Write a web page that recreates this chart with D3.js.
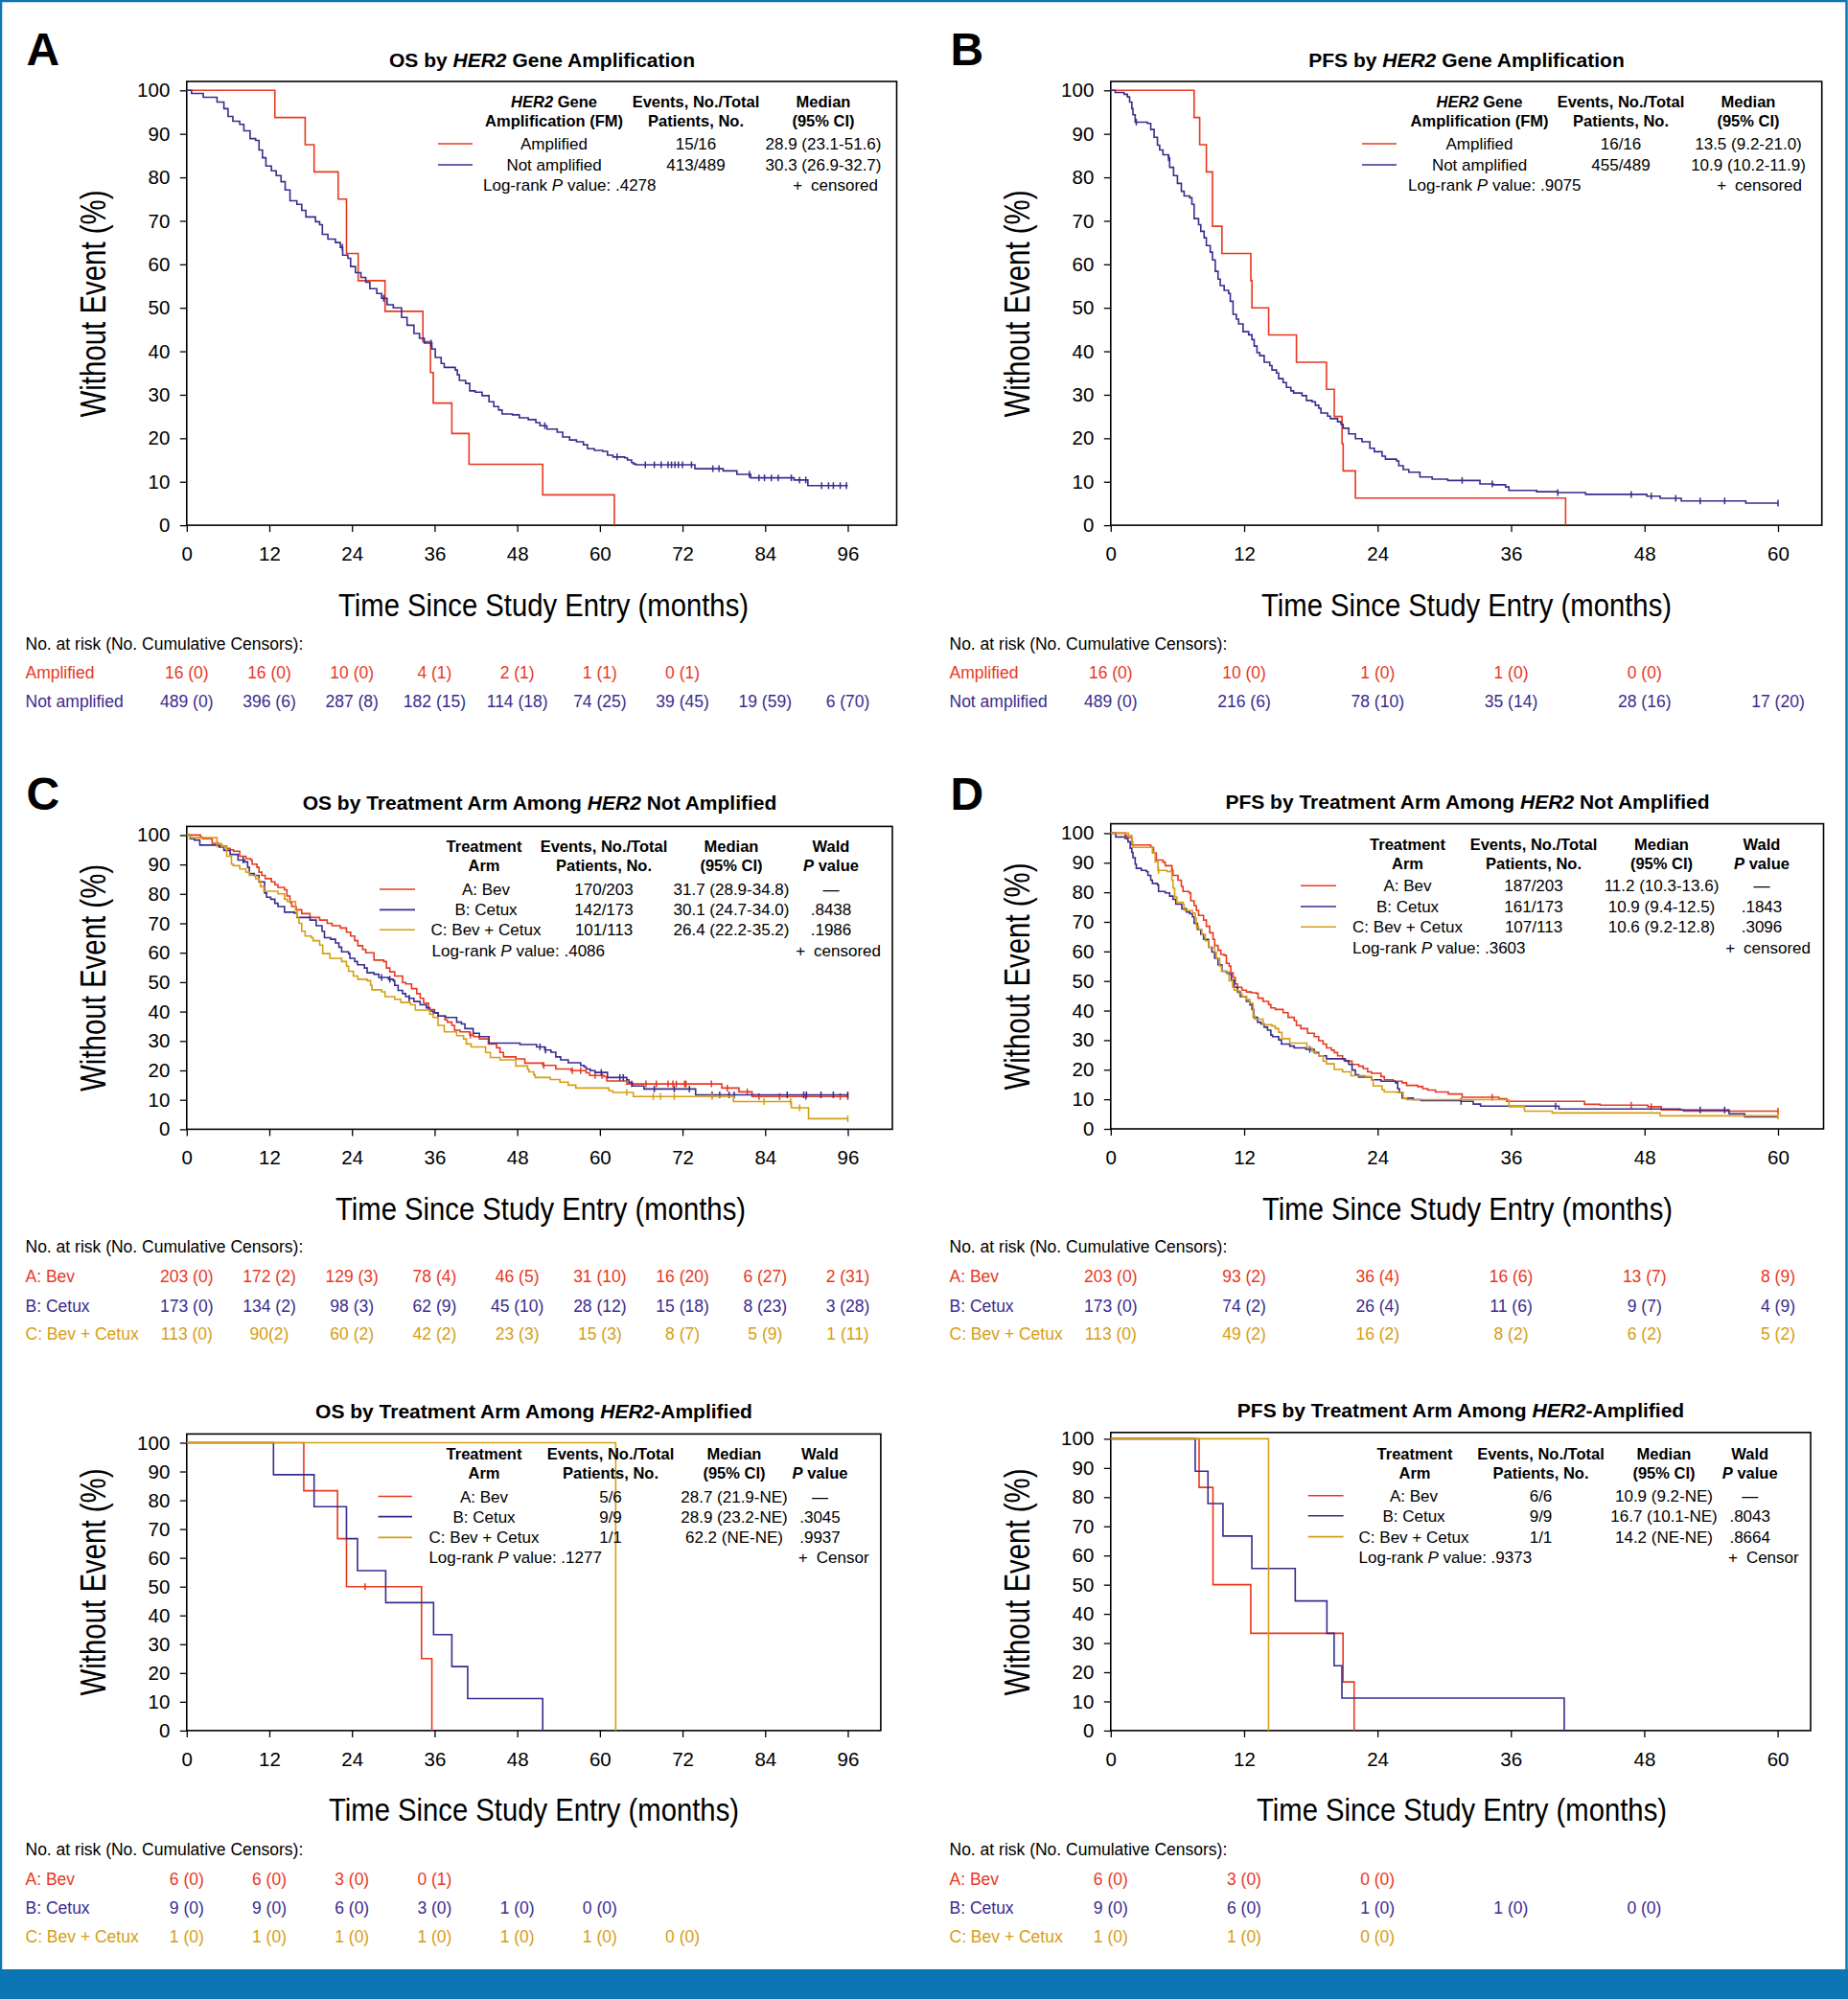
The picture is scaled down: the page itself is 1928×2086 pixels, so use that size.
<!DOCTYPE html>
<html><head><meta charset="utf-8">
<script src="https://cdn.jsdelivr.net/npm/d3@7"></script>
<style>
body{margin:0;background:#fff}
svg{display:block}
text{font-family:"Liberation Sans",Arial,Helvetica,sans-serif}
</style>
</head><body>
<svg id="c" width="1928" height="2086"></svg>
<script>
// ---------------- DATA ----------------
// Panel A: OS by HER2 amplification  [months, % without event]
const osHer2Amp = [[0,100],[12.8,93.75],[17.2,87.5],[18.5,81.25],[22.0,75],[23.2,62.5],[24.9,56.25],[28.8,49.2],[34.3,42.2],[35.4,35.1],[35.8,28.1],[38.5,21.1],[41.0,14.0],[51.7,7.0],[62.1,0]];
const osHer2Not = [[0,100],[0.7,99.3],[2.4,98.4],[4.4,97.3],[5.4,95.8],[6.0,94.0],[6.7,92.9],[7.7,92.2],[8.3,90.7],[9.2,88.9],[10.0,88.5],[10.5,86.3],[11.0,84.5],[11.5,82.6],[12.3,81.5],[13.0,80.4],[13.7,79.0],[14.3,77.1],[15.0,74.6],[16.0,73.8],[16.7,72.4],[17.3,70.9],[18.7,69.8],[19.3,69.1],[19.7,66.9],[20.5,65.8],[21.6,65.0],[22.3,63.9],[22.65,62.1],[23.4,61.4],[23.8,59.5],[24.5,58.1],[25.3,57.0],[26.0,55.9],[26.6,54.4],[27.6,53.3],[28.3,52.2],[29.1,50.7],[30.0,50.0],[31.2,47.8],[32.0,46.0],[33.0,44.1],[33.8,43.0],[34.5,41.9],[35.6,40.5],[36.1,38.6],[36.95,37.2],[37.4,36.3],[39.0,35.7],[39.3,34.6],[39.6,33.3],[40.5,32.6],[41.1,30.9],[41.9,30.6],[42.9,29.8],[43.9,28.4],[44.6,27.3],[45.3,26.5],[45.8,25.6],[47.3,25.4],[48.3,24.7],[49.6,24.3],[50.7,23.6],[51.3,22.9],[52.3,22.1],[53.8,21.4],[54.6,20.3],[55.6,19.6],[56.6,19.2],[57.6,18.5],[58.2,17.6],[59.2,17.2],[60.4,17.0],[61.1,16.1],[61.9,15.7],[63.6,15.5],[64.0,15.0],[64.6,14.4],[64.9,14.1],[65.2,13.9],[73.8,13.0],[77.9,12.5],[79.9,11.7],[81.9,10.9],[88.2,10.4],[90.2,9.1],[96.0,9.1]];
const osHer2NotCens = [22.6,28.6,35.5,52.0,62.5,66.6,67.9,68.9,69.9,70.4,70.9,71.4,72.0,73.3,76.4,77.3,81.7,83.1,83.9,84.9,85.9,87.8,89.0,89.9,92.2,93.2,93.9,94.9,95.8];

// Panel B: PFS by HER2 amplification
const pfsHer2Amp = [[0,100],[7.5,93.75],[8.0,87.5],[8.6,81.25],[9.15,68.75],[10.0,62.5],[12.6,56.25],[12.7,50],[14.2,43.75],[16.7,37.5],[19.4,31.25],[20.1,25],[20.8,18.75],[20.9,12.5],[22.0,6.25],[40.9,0]];
const pfsHer2Not = [[0,100],[0.4,99.5],[1.2,99.1],[1.5,98.5],[1.7,97.3],[1.9,95.8],[2.0,94.4],[2.2,92.7],[3.3,92.4],[3.6,91.0],[3.9,89.2],[4.2,87.4],[4.4,86.3],[4.7,85.2],[5.2,84.5],[5.3,82.3],[5.65,80.4],[6.0,78.6],[6.35,76.8],[6.6,75.7],[7.1,75.3],[7.3,73.8],[7.5,70.5],[7.9,69.1],[8.1,67.6],[8.4,66.1],[8.6,64.3],[8.95,62.8],[9.15,61.0],[9.4,58.4],[9.65,56.6],[9.85,55.1],[10.2,54.0],[10.6,53.3],[10.75,51.5],[11.0,48.5],[11.3,47.4],[11.5,46.3],[11.9,44.5],[12.4,43.8],[12.7,42.7],[12.9,41.2],[13.15,39.7],[13.4,39.0],[13.8,37.5],[14.3,36.7],[14.5,35.7],[14.9,35.0],[15.1,33.7],[15.5,32.8],[15.8,31.7],[16.2,30.9],[16.45,30.4],[17.2,29.8],[17.6,28.7],[18.1,28.4],[18.4,27.6],[18.7,26.9],[18.9,25.8],[19.5,25.1],[19.75,24.5],[20.4,23.8],[20.7,23.2],[20.9,22.3],[21.4,21.0],[22.0,19.9],[22.6,19.2],[23.3,17.7],[23.7,16.9],[24.4,15.9],[24.7,15.2],[25.7,14.8],[25.9,13.7],[26.3,12.8],[26.8,12.2],[27.8,11.1],[28.9,10.6],[30.3,10.3],[33.2,9.5],[34.4,9.3],[35.5,8.8],[35.8,8.0],[38.3,7.7],[40.2,7.5],[42.7,7.1],[48.2,6.7],[49.4,6.2],[51.3,5.6],[57.1,5.1],[60,5.1]];
const pfsHer2NotCens = [2.3,5.2,31.6,34.3,40.2,46.8,48.6,50.8,53.0,55.2,60];

// Panel C: OS by arm, HER2 not amplified
const osNotBev = [[0,100],[2.0,99.3],[2.3,98.8],[3.7,97.2],[4.7,96.3],[5.8,95.5],[6.3,95.0],[6.8,94.5],[7.7,92.8],[8.6,92.0],[9.3,91.5],[9.5,90.1],[10.2,89.0],[10.5,87.4],[10.9,86.3],[11.4,85.2],[12.3,84.1],[12.8,83.1],[13.25,82.2],[14.2,81.4],[14.55,79.3],[15.0,77.1],[15.25,75.7],[15.9,74.6],[16.7,73.3],[17.9,72.0],[19.3,71.1],[20.4,70.0],[21.1,69.2],[22.3,68.4],[23.2,67.0],[23.8,65.7],[24.4,64.1],[24.85,62.4],[25.55,61.1],[26.0,60.0],[27.2,57.5],[28.6,57.0],[29.0,54.8],[29.5,53.5],[30.2,52.1],[31.35,49.9],[31.8,49.4],[32.65,47.8],[33.4,46.1],[33.9,44.5],[34.4,42.9],[35.1,40.7],[36.0,39.6],[36.5,38.5],[37.5,37.2],[37.85,36.4],[38.5,35.3],[38.9,33.7],[39.7,33.1],[41.1,32.0],[41.65,31.5],[42.5,30.7],[43.8,29.0],[45.0,27.7],[45.5,26.1],[46.0,24.6],[47.8,23.9],[49.1,22.5],[51.7,21.7],[53.6,20.5],[55.8,19.9],[58.0,19.2],[58.5,18.3],[60.6,17.9],[61.0,16.4],[63.9,15.4],[77.7,14.0],[80.2,12.7],[82.1,11.1],[96,11.1]];
const osNotCet = [[0,100],[0.5,98.8],[1.1,98.3],[1.9,96.6],[4.7,95.9],[5.4,94.8],[6.3,93.4],[7.45,91.5],[8.4,90.9],[8.85,89.0],[9.1,86.9],[9.8,86.3],[10.5,84.1],[11.3,80.3],[11.6,78.9],[12.2,78.2],[12.8,76.8],[13.25,75.7],[14.2,73.8],[15.6,73.5],[16.0,72.0],[17.9,71.1],[18.8,69.2],[19.65,67.3],[20.0,65.1],[20.9,64.6],[21.6,63.3],[22.1,61.9],[22.5,60.3],[23.5,59.7],[23.7,58.1],[24.4,57.0],[24.8,55.9],[25.8,54.8],[26.2,53.2],[27.2,52.7],[27.9,51.6],[29.3,51.0],[30.0,50.5],[30.2,48.9],[30.7,47.2],[31.35,46.1],[31.8,45.1],[32.3,44.5],[33.0,43.4],[33.9,42.3],[34.8,41.3],[35.3,40.2],[35.8,39.6],[36.5,38.5],[37.6,38.0],[39.2,36.4],[39.9,35.8],[40.4,34.2],[41.6,32.6],[42.5,31.5],[43.9,29.3],[48.4,28.8],[50.8,28.0],[52.0,26.9],[52.9,26.2],[53.6,24.6],[54.3,23.6],[55.4,22.6],[57.2,21.7],[57.7,21.2],[58.0,20.5],[58.6,19.9],[59.3,19.3],[61.1,17.6],[63.9,16.8],[64.2,15.9],[64.7,14.7],[66.4,13.7],[73.9,11.7],[96,11.7]];
const osNotBC = [[0,100],[0.5,99.1],[4.4,97.0],[5.1,96.1],[5.8,92.8],[6.5,90.1],[6.75,89.6],[7.7,88.5],[8.6,87.4],[9.1,86.3],[10.0,85.2],[10.5,84.4],[10.7,82.5],[11.2,80.9],[13.25,80.0],[14.2,78.2],[14.6,77.4],[15.8,74.4],[16.0,72.2],[16.3,70.0],[16.7,67.3],[17.2,65.7],[18.1,65.1],[18.35,64.1],[19.3,62.6],[19.75,59.7],[20.8,58.1],[22.5,57.0],[23.2,55.4],[23.5,53.7],[24.2,52.1],[24.85,51.0],[26.2,50.5],[26.7,48.9],[26.9,47.4],[28.3,46.7],[28.8,45.1],[30.2,44.2],[31.1,43.1],[32.5,42.3],[33.2,40.5],[35.3,39.1],[35.8,38.0],[36.5,35.3],[37.4,33.1],[39.2,31.8],[40.2,30.7],[40.6,29.0],[41.3,28.0],[43.4,26.1],[44.1,24.4],[45.5,23.6],[47.8,21.5],[49.5,20.4],[49.7,19.5],[50.4,18.5],[50.6,17.6],[52.8,16.9],[54.2,16.0],[55.4,15.0],[56.5,14.0],[61.3,13.1],[61.9,12.5],[64.85,11.1],[79.4,9.4],[87.8,7.3],[90.3,3.6],[96,3.6]];
const osNotBevCens = [41.2,51.85,56.0,57.2,59.3,60.3,64.6,66.7,68.2,69.9,70.6,71.1,72.3,72.5,76.2,78.5,81.4,83.1,86.1,89.9,94.9,96.0];
const osNotCetCens = [8.2,28.3,29.5,32.3,51.3,52.1,60.2,62.9,63.4,67.9,70.8,73.0,76.3,77.4,78.75,79.5,87.2,89.6,90.0,92.1,93.9,96.0];
const osNotBCCens = [4.4,63.9,67.75,68.8,70.8,76.3,83.85,87.7,89.0,96.0];

// Panel D: PFS by arm, HER2 not amplified
const pfsNotBev = [[0,100],[1.3,99.2],[1.45,98.5],[1.9,96.0],[3.6,95.2],[3.85,93.3],[4.1,90.9],[4.7,90.2],[4.9,89.0],[5.5,87.4],[5.6,85.7],[6.05,84.1],[6.35,82.0],[6.5,80.3],[7.05,79.8],[7.2,77.1],[7.5,75.5],[7.7,73.9],[7.9,72.2],[8.35,70.6],[8.6,68.5],[8.9,66.3],[9.2,64.1],[9.35,62.0],[9.65,60.4],[9.9,59.0],[10.2,58.7],[10.4,56.0],[10.65,55.0],[10.8,52.8],[11.0,51.2],[11.2,49.0],[11.4,47.9],[11.8,46.9],[12.2,46.3],[12.65,46.0],[13.1,45.8],[13.25,44.2],[13.7,43.1],[14.2,42.0],[14.4,40.9],[14.8,40.4],[15.5,39.3],[15.95,37.7],[16.5,36.6],[16.7,35.0],[17.1,33.9],[17.7,32.3],[18.3,31.2],[18.7,29.8],[19.1,28.7],[19.4,27.4],[19.85,26.6],[20.1,25.8],[20.4,24.7],[20.85,23.7],[21.1,22.9],[21.7,21.8],[22.3,21.2],[22.7,20.4],[23.1,19.3],[23.45,18.8],[24.3,17.7],[24.6,16.6],[25.4,16.1],[26.2,15.6],[26.6,14.7],[27.6,14.3],[28.05,13.6],[28.5,13.1],[29.2,12.5],[30.35,11.8],[31.6,10.7],[34.9,10.2],[35.6,9.3],[42.6,8.3],[44.0,8.0],[48.3,7.5],[49.5,6.4],[51.5,6.0],[60,6.0]];
const pfsNotCet = [[0,100],[0.45,98.7],[1.3,98.2],[1.55,97.1],[1.75,94.9],[1.9,93.5],[2.0,91.7],[2.2,89.5],[2.3,88.1],[2.75,87.4],[3.2,87.0],[3.35,85.7],[3.6,84.1],[3.75,83.0],[4.2,82.5],[4.3,80.3],[4.9,79.8],[5.3,78.7],[5.6,77.6],[5.85,76.0],[6.4,74.4],[6.8,73.3],[7.1,72.8],[7.35,71.7],[7.5,69.5],[7.8,67.4],[8.1,65.8],[8.35,64.1],[8.8,61.4],[9.1,59.8],[9.35,57.7],[9.65,55.5],[10.0,53.3],[10.4,52.8],[10.65,52.3],[10.85,50.3],[11.1,47.9],[11.4,46.3],[11.65,44.7],[12.2,43.1],[12.5,42.0],[12.7,40.4],[12.85,37.7],[13.2,36.1],[13.5,35.5],[13.8,34.4],[14.1,33.4],[14.4,31.7],[14.55,31.2],[15.1,30.1],[15.35,28.7],[16.1,28.0],[16.5,27.4],[17.55,26.9],[18.3,25.8],[18.7,24.7],[19.4,23.7],[21.0,23.1],[21.4,21.8],[21.7,19.9],[22.0,18.3],[22.3,17.5],[23.45,16.6],[24.3,16.1],[25.6,15.6],[25.8,13.6],[25.95,12.3],[26.2,10.4],[27.2,9.9],[27.9,9.6],[31.5,9.3],[32.6,8.4],[33.25,7.7],[40.3,6.7],[51.2,6.4],[55.6,5.1],[57.0,4.1],[60,4.1]];
const pfsNotBC = [[0,100],[1.6,99.2],[1.9,97.0],[2.0,95.2],[3.75,93.3],[4.0,90.3],[4.25,87.4],[5.05,87.0],[5.5,84.1],[5.6,81.4],[5.75,78.4],[5.95,76.6],[6.5,76.0],[6.6,73.9],[7.35,73.0],[7.6,71.2],[7.7,68.5],[7.9,67.4],[8.2,65.8],[8.5,63.6],[8.8,61.4],[9.35,59.8],[9.5,57.7],[9.8,55.0],[9.95,53.3],[10.5,52.3],[10.65,50.1],[10.95,47.9],[11.1,46.9],[11.5,45.8],[11.8,44.7],[12.2,43.8],[12.5,42.5],[12.8,38.2],[12.95,37.1],[13.7,35.2],[14.5,34.8],[14.8,33.9],[15.1,32.6],[15.4,30.5],[16.1,29.0],[17.65,27.4],[18.1,26.3],[18.4,25.5],[18.7,24.7],[19.1,22.9],[19.4,22.0],[20.1,20.1],[20.85,19.3],[21.6,18.0],[22.9,17.7],[23.45,16.6],[23.6,14.5],[24.4,13.2],[24.6,12.5],[25.7,12.3],[26.3,10.4],[26.6,9.9],[35.8,7.5],[37.2,6.0],[39.7,5.4],[49.4,4.4],[60,4.4]];
const pfsNotBevCens = [5.5,34.3,46.8,48.6,60];
const pfsNotCetCens = [17.9,31.5,40.0,53.0,55.2];
const pfsNotBCCens = [4.3,60];

// Panel E: OS by arm, HER2 amplified
const osAmpBev = [[0,100],[17.0,83.33],[21.9,66.67],[23.2,50],[34.1,25],[35.6,0]];
const osAmpCet = [[0,100],[12.6,88.89],[18.5,77.78],[23.2,66.67],[24.8,55.56],[28.9,44.44],[35.85,33.33],[38.5,22.22],[40.8,11.11],[51.7,0]];
const osAmpBC = [[0,100],[62.3,0]];
const osAmpBevCens = [25.9];

// Panel F: PFS by arm, HER2 amplified
const pfsAmpBev = [[0,100],[7.95,83.33],[9.2,50],[12.6,33.33],[20.9,16.67],[21.9,0]];
const pfsAmpCet = [[0,100],[7.6,88.89],[8.75,77.78],[10.1,66.67],[12.7,55.56],[16.6,44.44],[19.45,33.33],[20.1,22.22],[20.8,11.11],[40.8,0]];
const pfsAmpBC = [[0,100],[14.2,0]];

// Legend texts
const her2Labels = ["Amplified","Not amplified"];
const osHer2Events = ["15/16","413/489"];
const osHer2Medians = ["28.9 (23.1-51.6)","30.3 (26.9-32.7)"];
const pfsHer2Events = ["16/16","455/489"];
const pfsHer2Medians = ["13.5 (9.2-21.0)","10.9 (10.2-11.9)"];
const armLabels = ["A: Bev","B: Cetux","C: Bev + Cetux"];
const osNotEvents = ["170/203","142/173","101/113"];
const osNotMedians = ["31.7 (28.9-34.8)","30.1 (24.7-34.0)","26.4 (22.2-35.2)"];
const osNotWald = ["\u2014",".8438",".1986"];
const pfsNotEvents = ["187/203","161/173","107/113"];
const pfsNotMedians = ["11.2 (10.3-13.6)","10.9 (9.4-12.5)","10.6 (9.2-12.8)"];
const pfsNotWald = ["\u2014",".1843",".3096"];
const osAmpEvents = ["5/6","9/9","1/1"];
const osAmpMedians = ["28.7 (21.9-NE)","28.9 (23.2-NE)","62.2 (NE-NE)"];
const osAmpWald = ["\u2014",".3045",".9937"];
const pfsAmpEvents = ["6/6","9/9","1/1"];
const pfsAmpMedians = ["10.9 (9.2-NE)","16.7 (10.1-NE)","14.2 (NE-NE)"];
const pfsAmpWald = ["\u2014",".8043",".8664"];
const logRankP = [".4278",".9075",".4086",".3603",".1277",".9373"];

// Numbers at risk (cumulative censors)
const riskOsHer2Amp = ["16 (0)","16 (0)","10 (0)","4 (1)","2 (1)","1 (1)","0 (1)"];
const riskOsHer2Not = ["489 (0)","396 (6)","287 (8)","182 (15)","114 (18)","74 (25)","39 (45)","19 (59)","6 (70)"];
const riskPfsHer2Amp = ["16 (0)","10 (0)","1 (0)","1 (0)","0 (0)"];
const riskPfsHer2Not = ["489 (0)","216 (6)","78 (10)","35 (14)","28 (16)","17 (20)"];
const riskOsNotBev = ["203 (0)","172 (2)","129 (3)","78 (4)","46 (5)","31 (10)","16 (20)","6 (27)","2 (31)"];
const riskOsNotCet = ["173 (0)","134 (2)","98 (3)","62 (9)","45 (10)","28 (12)","15 (18)","8 (23)","3 (28)"];
const riskOsNotBC = ["113 (0)","90(2)","60 (2)","42 (2)","23 (3)","15 (3)","8 (7)","5 (9)","1 (11)"];
const riskPfsNotBev = ["203 (0)","93 (2)","36 (4)","16 (6)","13 (7)","8 (9)"];
const riskPfsNotCet = ["173 (0)","74 (2)","26 (4)","11 (6)","9 (7)","4 (9)"];
const riskPfsNotBC = ["113 (0)","49 (2)","16 (2)","8 (2)","6 (2)","5 (2)"];
const riskOsAmpBev = ["6 (0)","6 (0)","3 (0)","0 (1)"];
const riskOsAmpCet = ["9 (0)","9 (0)","6 (0)","3 (0)","1 (0)","0 (0)"];
const riskOsAmpBC = ["1 (0)","1 (0)","1 (0)","1 (0)","1 (0)","1 (0)","0 (0)"];
const riskPfsAmpBev = ["6 (0)","3 (0)","0 (0)"];
const riskPfsAmpCet = ["9 (0)","6 (0)","1 (0)","1 (0)","0 (0)"];
const riskPfsAmpBC = ["1 (0)","1 (0)","0 (0)"];

// ---------------- STYLE ----------------
const RED = "#e8391f", NAVY = "#3a2c8e", GOLD = "#d69e14", BLUE = "#0b76b3";
const FONT = '"Liberation Sans",Arial,Helvetica,sans-serif';

const svg = d3.select("#c");
svg.append("rect").attr("width",1928).attr("height",2086).attr("fill","#fff");

function survAt(pts, t){ let v = pts[0][1]; for (const p of pts){ if (p[0] <= t) v = p[1]; else break; } return v; }

function drawPanel(p){
  const g = svg.append("g");
  const x = d3.scaleLinear().domain([0,p.xMax]).range([p.ox+194.8, p.ox+p.xEnd]);
  const y = d3.scaleLinear().domain([0,100]).range([p.y0, p.y100]);

  if (p.letter) g.append("text").attr("x",p.ox+27.5).attr("y",p.letterY)
      .attr("font-size",48).attr("font-weight","bold").text(p.letter);

  const tt = g.append("text").attr("x",p.ox+p.titleX).attr("y",p.titleY+7.5)
     .attr("text-anchor","middle").attr("font-size",21).attr("font-weight","bold");
  p.title.forEach(s=>tt.append("tspan").attr("font-style",s.i?"italic":null).text(s.t));

  g.append("rect").attr("x",x(0)).attr("y",p.top).attr("width",p.ox+p.right-x(0)).attr("height",p.y0-p.top)
    .attr("fill","none").attr("stroke","#000").attr("stroke-width",1.6);

  const ya = g.append("g").attr("transform",`translate(${x(0)},0)`)
    .call(d3.axisLeft(y).tickValues(d3.range(0,101,10)).tickSize(7).tickPadding(10.5));
  const xa = g.append("g").attr("transform",`translate(0,${p.y0})`)
    .call(d3.axisBottom(x).tickValues(d3.range(0,p.xMax+1,12)).tickSize(7).tickPadding(15.5));
  [ya,xa].forEach(a=>{
    a.attr("font-family",FONT).attr("font-size",20.5);
    a.select(".domain").remove();
    a.selectAll("line").attr("stroke","#000").attr("stroke-width",1.3);
    a.selectAll("text").attr("fill","#000");
  });

  g.append("text").attr("transform",`translate(${p.ox+109.5},${p.yTitleY}) rotate(-90)`)
    .attr("text-anchor","middle").attr("font-size",36).attr("textLength",237).attr("lengthAdjust","spacingAndGlyphs")
    .text("Without Event (%)");
  g.append("text").attr("x",p.ox+p.xTitleX).attr("y",p.y0+94.5).attr("text-anchor","middle")
    .attr("font-size",34).attr("textLength",428).attr("lengthAdjust","spacingAndGlyphs")
    .text("Time Since Study Entry (months)");

  const line = d3.line().x(d=>x(d[0])).y(d=>y(d[1])).curve(d3.curveStepAfter);
  p.series.forEach(s=>{
    g.append("path").datum(s.pts).attr("d",line).attr("fill","none")
      .attr("stroke",s.color).attr("stroke-width",1.6);
    (s.cens||[]).forEach(t=>{
      const yy = y(survAt(s.pts,t));
      g.append("line").attr("x1",x(t)).attr("x2",x(t)).attr("y1",yy-3.5).attr("y2",yy+3.5)
        .attr("stroke",s.color).attr("stroke-width",1.5);
    });
  });

  // legend
  const L = p.legend;
  L.heads.forEach((h,i)=>{
    h.forEach((ln,j)=>{
      const t = g.append("text").attr("x",p.ox+L.hx[i]).attr("y",L.hy[j]+6).attr("text-anchor","middle")
        .attr("font-weight","bold").attr("font-size",16.5);
      ln.forEach(s=>t.append("tspan").attr("font-style",s.i?"italic":null).text(s.t));
    });
  });
  p.series.forEach((s,i)=>{
    const yy = L.ry[i];
    g.append("line").attr("x1",p.ox+L.lineX[0]).attr("x2",p.ox+L.lineX[1]).attr("y1",yy).attr("y2",yy)
      .attr("stroke",s.color).attr("stroke-width",1.6);
    s.leg.forEach((txt,k)=>{
      g.append("text").attr("x",p.ox+L.hx[k]+(k===0?L.labelShift:0)).attr("y",yy+6).attr("text-anchor","middle")
        .attr("font-size",17).text(txt);
    });
  });
  const lr = g.append("text").attr("x",p.ox+L.lrX).attr("y",L.lrY+6).attr("font-size",17);
  lr.append("tspan").text("Log-rank ");
  lr.append("tspan").attr("font-style","italic").text("P");
  lr.append("tspan").text(" value: "+p.pval);
  const cn = g.append("text").attr("x",p.ox+L.cEnd).attr("y",L.lrY+6).attr("font-size",17).attr("text-anchor","end");
  cn.append("tspan").text("+");
  cn.append("tspan").attr("dx",9).text(L.cText);

  // risk table
  const R = p.risk;
  g.append("text").attr("x",p.ox+26.5).attr("y",R.hy).attr("font-size",17.5).text("No. at risk (No. Cumulative Censors):");
  p.series.forEach((s,i)=>{
    g.append("text").attr("x",p.ox+26.5).attr("y",R.ry[i]).attr("font-size",17.5).attr("fill",s.color).text(s.name);
    s.risk.forEach((v,k)=>{
      g.append("text").attr("x",x(k*12)).attr("y",R.ry[i]).attr("text-anchor","middle")
        .attr("font-size",17.5).attr("fill",s.color).text(v);
    });
  });
}

const her2Heads = [
  [[{t:"HER2",i:1},{t:" Gene"}],[{t:"Amplification (FM)"}]],
  [[{t:"Events, No./Total"}],[{t:"Patients, No."}]],
  [[{t:"Median"}],[{t:"(95% CI)"}]]
];
const armHeads = [
  [[{t:"Treatment"}],[{t:"Arm"}]],
  [[{t:"Events, No./Total"}],[{t:"Patients, No."}]],
  [[{t:"Median"}],[{t:"(95% CI)"}]],
  [[{t:"Wald"}],[{t:"P",i:1},{t:" value"}]]
];

const panels = [
 { letter:"A", letterY:67.7, ox:0, xMax:96, xEnd:884.5, top:85, y100:94.3, y0:548.1, right:935.5,
   title:[{t:"OS by "},{t:"HER2",i:1},{t:" Gene Amplification"}], titleX:565.5, titleY:62,
   yTitleY:317, xTitleX:567, pval:logRankP[0],
   legend:{heads:her2Heads, hx:[578,726,859], hy:[106,126], ry:[150,172], lineX:[457,493], labelShift:0, lrX:504, lrY:193, cEnd:916, cText:"censored"},
   risk:{hy:678, ry:[707.5,737.5]},
   series:[
     {name:her2Labels[0], color:RED, pts:osHer2Amp, leg:[her2Labels[0],osHer2Events[0],osHer2Medians[0]], risk:riskOsHer2Amp},
     {name:her2Labels[1], color:NAVY, pts:osHer2Not, cens:osHer2NotCens, leg:[her2Labels[1],osHer2Events[1],osHer2Medians[1]], risk:riskOsHer2Not}
   ]},
 { letter:"B", letterY:67.7, ox:964, xMax:60, xEnd:891, top:85, y100:94.3, y0:548.1, right:936.7,
   title:[{t:"PFS by "},{t:"HER2",i:1},{t:" Gene Amplification"}], titleX:566, titleY:62,
   yTitleY:317, xTitleX:566, pval:logRankP[1],
   legend:{heads:her2Heads, hx:[579.5,727,860], hy:[106,126], ry:[150,172], lineX:[457,493], labelShift:0, lrX:505, lrY:193, cEnd:916, cText:"censored"},
   risk:{hy:678, ry:[707.5,737.5]},
   series:[
     {name:her2Labels[0], color:RED, pts:pfsHer2Amp, leg:[her2Labels[0],pfsHer2Events[0],pfsHer2Medians[0]], risk:riskPfsHer2Amp},
     {name:her2Labels[1], color:NAVY, pts:pfsHer2Not, cens:pfsHer2NotCens, leg:[her2Labels[1],pfsHer2Events[1],pfsHer2Medians[1]], risk:riskPfsHer2Not}
   ]},
 { letter:"C", letterY:845, ox:0, xMax:96, xEnd:884.5, top:862.4, y100:871.4, y0:1178.4, right:931,
   title:[{t:"OS by Treatment Arm Among "},{t:"HER2",i:1},{t:" Not Amplified"}], titleX:563, titleY:837.5,
   yTitleY:1020.4, xTitleX:564, pval:logRankP[2],
   legend:{heads:armHeads, hx:[505,630,763,867], hy:[883.3,903.3], ry:[928,949.4,970.3], lineX:[396,433], labelShift:2, lrX:450.5, lrY:991.5, cEnd:919, cText:"censored"},
   risk:{hy:1307, ry:[1337.5,1368.5,1398]},
   series:[
     {name:armLabels[0], color:RED, pts:osNotBev, cens:osNotBevCens, leg:[armLabels[0],osNotEvents[0],osNotMedians[0],osNotWald[0]], risk:riskOsNotBev},
     {name:armLabels[1], color:NAVY, pts:osNotCet, cens:osNotCetCens, leg:[armLabels[1],osNotEvents[1],osNotMedians[1],osNotWald[1]], risk:riskOsNotCet},
     {name:armLabels[2], color:GOLD, pts:osNotBC, cens:osNotBCCens, leg:[armLabels[2],osNotEvents[2],osNotMedians[2],osNotWald[2]], risk:riskOsNotBC}
   ]},
 { letter:"D", letterY:845, ox:964, xMax:60, xEnd:891, top:859.6, y100:869.4, y0:1178, right:938.5,
   title:[{t:"PFS by Treatment Arm Among "},{t:"HER2",i:1},{t:" Not Amplified"}], titleX:567, titleY:836,
   yTitleY:1019, xTitleX:567, pval:logRankP[3],
   legend:{heads:armHeads, hx:[504.5,636,769.5,874], hy:[880.5,900.5], ry:[924.3,946,967.3], lineX:[393,430], labelShift:0, lrX:447, lrY:989.4, cEnd:925, cText:"censored"},
   risk:{hy:1307, ry:[1337.5,1368.5,1398]},
   series:[
     {name:armLabels[0], color:RED, pts:pfsNotBev, cens:pfsNotBevCens, leg:[armLabels[0],pfsNotEvents[0],pfsNotMedians[0],pfsNotWald[0]], risk:riskPfsNotBev},
     {name:armLabels[1], color:NAVY, pts:pfsNotCet, cens:pfsNotCetCens, leg:[armLabels[1],pfsNotEvents[1],pfsNotMedians[1],pfsNotWald[1]], risk:riskPfsNotCet},
     {name:armLabels[2], color:GOLD, pts:pfsNotBC, cens:pfsNotBCCens, leg:[armLabels[2],pfsNotEvents[2],pfsNotMedians[2],pfsNotWald[2]], risk:riskPfsNotBC}
   ]},
 { letter:null, ox:0, xMax:96, xEnd:884.5, top:1496.4, y100:1505.5, y0:1805.9, right:918.9,
   title:[{t:"OS by Treatment Arm Among "},{t:"HER2",i:1},{t:"-Amplified"}], titleX:557, titleY:1472,
   yTitleY:1651, xTitleX:557, pval:logRankP[4],
   legend:{heads:armHeads, hx:[505,637,766,855.5], hy:[1516.6,1536.8], ry:[1561.5,1582.6,1604.4], lineX:[394.6,430], labelShift:0, lrX:447.4, lrY:1625.4, cEnd:906.6, cText:"Censor"},
   risk:{hy:1935.5, ry:[1966.5,1996.5,2027]},
   series:[
     {name:armLabels[0], color:RED, pts:osAmpBev, cens:osAmpBevCens, leg:[armLabels[0],osAmpEvents[0],osAmpMedians[0],osAmpWald[0]], risk:riskOsAmpBev},
     {name:armLabels[1], color:NAVY, pts:osAmpCet, leg:[armLabels[1],osAmpEvents[1],osAmpMedians[1],osAmpWald[1]], risk:riskOsAmpCet},
     {name:armLabels[2], color:GOLD, pts:osAmpBC, leg:[armLabels[2],osAmpEvents[2],osAmpMedians[2],osAmpWald[2]], risk:riskOsAmpBC}
   ]},
 { letter:null, ox:964, xMax:60, xEnd:890.6, top:1494.8, y100:1501.4, y0:1805.9, right:925,
   title:[{t:"PFS by Treatment Arm Among "},{t:"HER2",i:1},{t:"-Amplified"}], titleX:560, titleY:1471,
   yTitleY:1651, xTitleX:561, pval:logRankP[5],
   legend:{heads:armHeads, hx:[512,643.5,772,861.7], hy:[1516.6,1536.8], ry:[1560.7,1581.7,1603.6], lineX:[400.7,437.6], labelShift:-1, lrX:453.6, lrY:1624.6, cEnd:912.7, cText:"Censor"},
   risk:{hy:1935.5, ry:[1966.5,1996.5,2027]},
   series:[
     {name:armLabels[0], color:RED, pts:pfsAmpBev, leg:[armLabels[0],pfsAmpEvents[0],pfsAmpMedians[0],pfsAmpWald[0]], risk:riskPfsAmpBev},
     {name:armLabels[1], color:NAVY, pts:pfsAmpCet, leg:[armLabels[1],pfsAmpEvents[1],pfsAmpMedians[1],pfsAmpWald[1]], risk:riskPfsAmpCet},
     {name:armLabels[2], color:GOLD, pts:pfsAmpBC, leg:[armLabels[2],pfsAmpEvents[2],pfsAmpMedians[2],pfsAmpWald[2]], risk:riskPfsAmpBC}
   ]}
];

panels.forEach(drawPanel);

// border frame
svg.append("rect").attr("x",1).attr("y",1).attr("width",1925.5).attr("height",2080).attr("fill","none")
  .attr("stroke",BLUE).attr("stroke-width",2.5);
svg.append("rect").attr("x",0).attr("y",2055).attr("width",1928).attr("height",31).attr("fill",BLUE);
</script>
</body></html>
